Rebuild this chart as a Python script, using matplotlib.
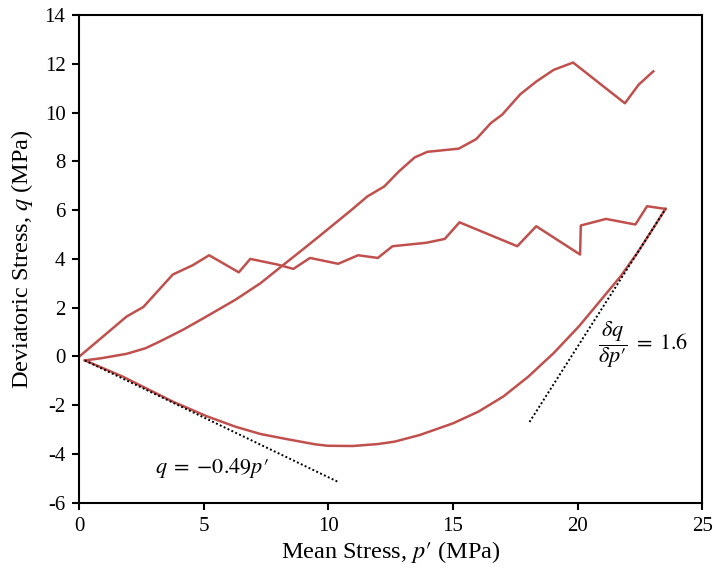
import matplotlib
matplotlib.use("Agg")
import matplotlib.pyplot as plt
import numpy as np

plt.rcParams['font.family'] = ['Liberation Serif', 'DejaVu Serif']
plt.rcParams['mathtext.fontset'] = 'stix'
plt.rcParams['axes.unicode_minus'] = False

red = "#C0504D"

# jagged path from origin out to the far end of the unloading curve
p_path1 = [0.0, 1.90, 2.57, 3.75, 4.55, 5.21, 6.40, 6.86, 7.95, 8.59, 9.26, 10.39, 11.19,
           11.98, 12.57, 13.92, 14.67, 15.26, 17.58, 18.34, 20.10, 20.13, 21.14, 22.32, 22.79, 23.53]
q_path1 = [0.0, 1.64, 2.03, 3.36, 3.74, 4.15, 3.45, 4.00, 3.77, 3.59, 4.04, 3.80, 4.15,
           4.04, 4.52, 4.66, 4.82, 5.50, 4.52, 5.34, 4.18, 5.37, 5.64, 5.41, 6.16, 6.05]

# smooth loading curve climbing to the top
p_path2 = [0.22, 0.89, 1.90, 2.66, 3.24, 4.17, 5.00, 6.27, 7.28, 8.12, 8.96, 9.63, 10.89,
           11.56, 12.24, 12.83, 13.46, 13.97, 15.23, 15.93, 16.52, 16.97, 17.70, 18.34,
           19.04, 19.82, 21.90, 22.45, 23.04]
q_path2 = [-0.16, -0.07, 0.11, 0.34, 0.62, 1.10, 1.58, 2.33, 3.01, 3.70, 4.38, 4.93, 5.98,
           6.56, 6.97, 7.59, 8.16, 8.39, 8.52, 8.91, 9.57, 9.91, 10.75, 11.27,
           11.75, 12.05, 10.38, 11.14, 11.69]

# lower curve dipping below zero
p_path3 = [0.22, 1.73, 3.75, 5.09, 6.27, 7.28, 8.29, 9.46, 9.97, 10.97, 11.98, 12.66, 13.66,
           15.00, 16.02, 17.02, 18.03, 19.04, 20.05, 20.89, 21.73, 22.40, 23.00, 23.53]
q_path3 = [-0.16, -0.82, -1.85, -2.44, -2.88, -3.18, -3.38, -3.60, -3.66, -3.67, -3.59, -3.49, -3.22,
           -2.74, -2.26, -1.64, -0.82, 0.14, 1.23, 2.26, 3.29, 4.25, 5.20, 6.05]

# dotted tangent lines
tan1_p = [0.22, 10.44]
tan1_slope = -0.49
tan2_p = [18.07, 23.53]
tan2_slope = 1.6

fig = plt.figure(figsize=(7.15, 5.76), dpi=100)
ax = fig.add_axes([0.111, 0.127, 0.871, 0.847])

ax.plot(p_path1, q_path1, color=red, lw=1.8)
ax.plot(p_path2, q_path2, color=red, lw=1.8)
ax.plot(p_path3, q_path3, color=red, lw=1.8)

t1 = np.array(tan1_p)
ax.plot(t1, -0.16 + tan1_slope * (t1 - t1[0]), color="black", lw=1.4, ls=(0, (1, 1.2)))
t2 = np.array(tan2_p)
ax.plot(t2, 6.05 + tan2_slope * (t2 - t2[-1]), color="black", lw=1.4, ls=(0, (1, 1.2)))

ax.text(3.05, -4.58, r"$q\;=\;{-}0.49p′$", fontsize=16, va="center")
ax.text(20.8, 0.47, r"$\dfrac{\delta q}{\delta p′}\;=\;1.6$", fontsize=16, va="center")

ax.set_xlim(0, 25)
ax.set_ylim(-6, 14)
ax.set_xticks(range(0, 26, 5))
ax.set_yticks(range(-6, 15, 2))
ax.tick_params(direction="out", length=5, width=1.5, labelsize=15, top=False, right=False, pad=5)
for s in ax.spines.values():
    s.set_linewidth(1.5)

ax.set_xlabel(r"Mean Stress, $p′$ (MPa)", fontsize=17.5, labelpad=2)
ax.set_ylabel(r"Deviatoric Stress, $q$ (MPa)", fontsize=17.5, labelpad=7)

fig.savefig("out.png", dpi=100)
